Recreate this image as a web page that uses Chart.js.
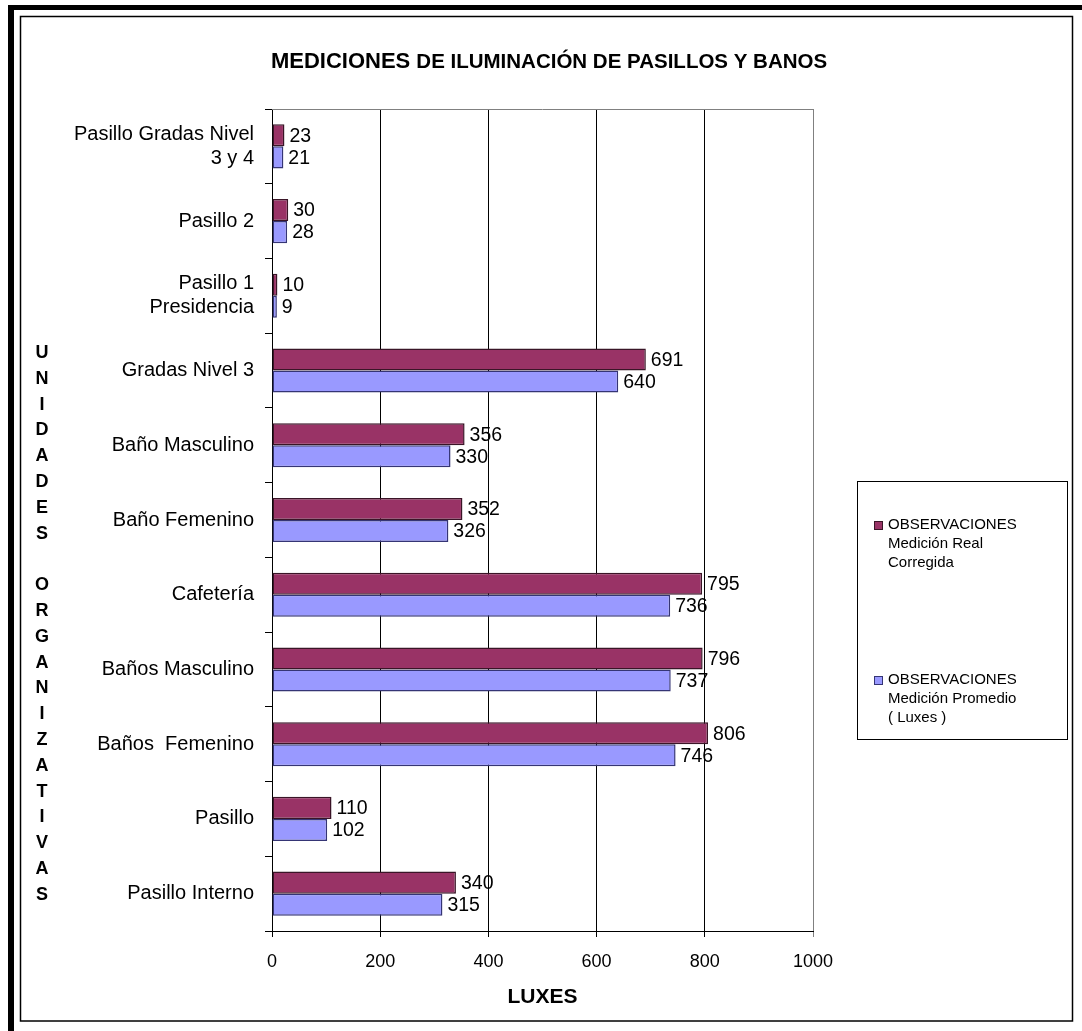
<!DOCTYPE html>
<html>
<head>
<meta charset="utf-8">
<script src="https://cdn.jsdelivr.net/npm/chart.js@4.4.0/dist/chart.umd.min.js"></script>
<style>
  html, body { margin: 0; padding: 0; background: #fff; }
  canvas { display: block; }
</style>
</head>
<body>
<canvas id="c" width="1082" height="1031"></canvas>
<script>
// Areas measured (top to bottom)
const categories = [
  ['Pasillo Gradas Nivel', '3 y 4'],
  'Pasillo 2',
  ['Pasillo 1', 'Presidencia'],
  'Gradas Nivel 3',
  'Baño Masculino',
  'Baño Femenino',
  'Cafetería',
  'Baños Masculino',
  'Baños  Femenino',
  'Pasillo',
  'Pasillo Interno'
];
// Corrected real measurement (lux)
const realCorregida = [23, 30, 10, 691, 356, 352, 795, 796, 806, 110, 340];
// Average measurement (lux)
const promedio = [21, 28, 9, 640, 330, 326, 736, 737, 746, 102, 315];
const seriesNames = [
  ['OBSERVACIONES', 'Medición Real', 'Corregida'],
  ['OBSERVACIONES', 'Medición Promedio', '( Luxes )']
];
const xTicks = [0, 200, 400, 600, 800, 1000];
const titleMain = 'MEDICIONES';
const titleRest = 'DE ILUMINACIÓN DE PASILLOS Y BANOS';
const yTitle = 'UNIDADES ORGANIZATIVAS';
const xTitle = 'LUXES';

const FONT = "'Liberation Sans', Arial, Helvetica, sans-serif";
Chart.defaults.font.family = FONT;
Chart.defaults.color = '#000';

const COLORS = [
  { fill: '#993366', border: '#3a1527' },
  { fill: '#9999FF', border: '#353575' }
];

// Page frame, chart title, stacked vertical axis caption and plot top edge
const framePlugin = {
  id: 'frame',
  beforeDraw(chart) {
    const ctx = chart.ctx;
    const W = chart.width, H = chart.height;
    ctx.save();
    ctx.fillStyle = '#fff';
    ctx.fillRect(0, 0, W, H);
    // heavy outer edge (top and left)
    ctx.fillStyle = '#000';
    ctx.fillRect(8, 5, W - 8, 5);
    ctx.fillRect(8, 5, 6, H - 5);
    // thin inner border
    ctx.strokeStyle = '#000';
    ctx.lineWidth = 1.5;
    ctx.strokeRect(20.5, 16.5, 1052, 1004.5);
    ctx.restore();
  },
  afterDraw(chart) {
    const ctx = chart.ctx;
    const area = chart.chartArea;
    ctx.save();
    // top edge of plot area
    ctx.strokeStyle = '#808080';
    ctx.lineWidth = 1;
    ctx.beginPath();
    ctx.moveTo(area.left, Math.round(area.top) + 0.5);
    ctx.lineTo(area.right, Math.round(area.top) + 0.5);
    ctx.stroke();

    // title with larger first word
    ctx.fillStyle = '#000';
    ctx.textBaseline = 'alphabetic';
    ctx.textAlign = 'left';
    const f1 = 'bold 22px ' + FONT, f2 = 'bold 20.5px ' + FONT;
    ctx.font = f1; const w1 = ctx.measureText(titleMain + ' ').width;
    ctx.font = f2; const w2 = ctx.measureText(titleRest).width;
    const x0 = 549 - (w1 + w2) / 2;
    ctx.font = f1; ctx.fillText(titleMain + ' ', x0, 68);
    ctx.font = f2; ctx.fillText(titleRest, x0 + w1, 68);

    // vertical caption, one letter per line
    ctx.font = 'bold 18px ' + FONT;
    ctx.textAlign = 'center';
    ctx.textBaseline = 'middle';
    const letters = yTitle.split('');
    letters.forEach((ch, i) => {
      if (ch !== ' ') ctx.fillText(ch, 42, 353 + i * 25.8);
    });

    // legend box
    const lx = 857, ly = 481, lw = 210, lh = 258;
    ctx.strokeStyle = '#000';
    ctx.lineWidth = 1;
    ctx.strokeRect(lx + 0.5, ly + 0.5, lw, lh);
    ctx.font = '15px ' + FONT;
    ctx.textAlign = 'left';
    const starts = [525, 680];
    chart.data.datasets.forEach((ds, i) => {
      const y0 = starts[i];
      ctx.fillStyle = ds.backgroundColor;
      ctx.fillRect(874, y0 - 4, 9, 9);
      ctx.strokeStyle = ds.borderColor;
      ctx.lineWidth = 1;
      ctx.strokeRect(874.5, y0 - 3.5, 8, 8);
      ctx.fillStyle = '#000';
      seriesNames[i].forEach((line, j) => ctx.fillText(line, 888, y0 + j * 19));
    });
    ctx.restore();
  }
};

// Value printed just past the end of each bar
const valueLabels = {
  id: 'valueLabels',
  afterDatasetsDraw(chart) {
    const ctx = chart.ctx;
    ctx.save();
    ctx.font = '19.5px ' + FONT;
    ctx.fillStyle = '#000';
    ctx.textAlign = 'left';
    ctx.textBaseline = 'middle';
    chart.data.datasets.forEach((ds, i) => {
      const meta = chart.getDatasetMeta(i);
      meta.data.forEach((bar, j) => {
        ctx.fillText(String(ds.data[j]), bar.x + 5, bar.y + 1);
      });
    });
    ctx.restore();
  }
};

new Chart(document.getElementById('c'), {
  type: 'bar',
  data: {
    labels: categories,
    datasets: [
      {
        label: seriesNames[0].join(' '),
        data: realCorregida,
        backgroundColor: COLORS[0].fill,
        borderColor: COLORS[0].border,
        borderWidth: 1.5,
        borderSkipped: false,
        categoryPercentage: 0.59,
        barPercentage: 1
      },
      {
        label: seriesNames[1].join(' '),
        data: promedio,
        backgroundColor: COLORS[1].fill,
        borderColor: COLORS[1].border,
        borderWidth: 1.5,
        borderSkipped: false,
        categoryPercentage: 0.59,
        barPercentage: 1
      }
    ]
  },
  options: {
    indexAxis: 'y',
    responsive: false,
    animation: false,
    layout: { padding: { top: 109, right: 269, bottom: 0, left: 0 } },
    plugins: {
      legend: { display: false },
      title: { display: false },
      tooltip: { enabled: false }
    },
    scales: {
      x: {
        type: 'linear',
        position: 'bottom',
        min: 0,
        max: 1000,
        afterBuildTicks: (scale) => { scale.ticks = xTicks.map(v => ({ value: v })); },
        afterFit: (scale) => { scale.height = 100; },
        ticks: {
          font: { size: 18 },
          color: '#000',
          padding: 14,
          maxRotation: 0,
          callback: (v) => String(v)
        },
        grid: {
          color: (c) => (c.tick && c.tick.value === 1000 ? '#808080' : '#000'),
          lineWidth: 1,
          tickLength: 6
        },
        border: { display: true, color: '#000', width: 1 },
        title: {
          display: true,
          text: xTitle,
          font: { size: 21, weight: 'bold' },
          color: '#000',
          padding: { top: 0, bottom: 21 }
        }
      },
      y: {
        type: 'category',
        position: 'left',
        afterFit: (scale) => { scale.width = 272; },
        ticks: {
          font: { size: 20 },
          color: '#000',
          padding: 11,
          autoSkip: false
        },
        grid: {
          drawOnChartArea: false,
          color: '#000',
          tickLength: 7,
          offset: true
        },
        border: { display: true, color: '#000', width: 1 }
      }
    }
  },
  plugins: [framePlugin, valueLabels]
});
</script>
</body>
</html>
